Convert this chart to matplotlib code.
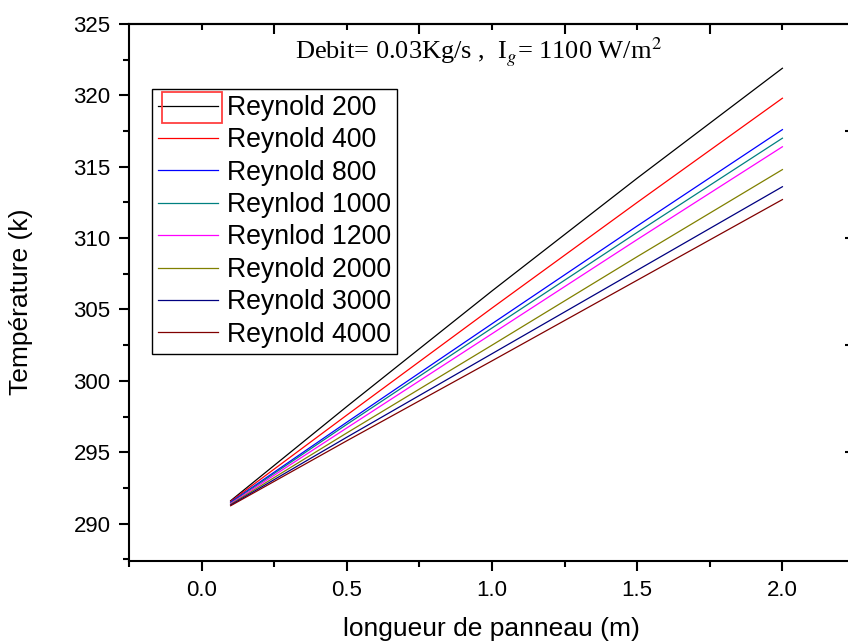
import matplotlib
matplotlib.use("Agg")
import matplotlib.pyplot as plt
from matplotlib.patches import Rectangle
from matplotlib.ticker import MultipleLocator, FixedLocator, NullFormatter, FormatStrFormatter

OUTPUT_FILE = "out.png"

plt.rcParams["font.family"] = ["Liberation Sans", "DejaVu Sans"]
plt.rcParams["mathtext.fontset"] = "stix"

# longueur de panneau (m)
longueur = [0.1, 0.5, 1.0, 1.5, 2.0]

# température de sortie (K) pour chaque Reynolds
labels = ["Reynold 200", "Reynold 400", "Reynold 800", "Reynlod 1000",
          "Reynlod 1200", "Reynold 2000", "Reynold 3000", "Reynold 4000"]
t_re200 = [291.60, 298.20, 306.30, 314.20, 321.9]
t_re400 = [291.55, 297.60, 305.10, 312.50, 319.8]
t_re800 = [291.50, 297.10, 304.00, 310.85, 317.6]
t_re1000 = [291.45, 296.95, 303.70, 310.40, 317.0]
t_re1200 = [291.40, 296.70, 303.30, 309.90, 316.4]
t_re2000 = [291.35, 296.35, 302.50, 308.70, 314.8]
t_re3000 = [291.30, 296.05, 301.90, 307.75, 313.6]
t_re4000 = [291.25, 295.80, 301.40, 307.05, 312.7]
series = [t_re200, t_re400, t_re800, t_re1000, t_re1200, t_re2000, t_re3000, t_re4000]
colors = ["#000000", "#FF0000", "#0000FF", "#008080",
          "#FF00FF", "#808000", "#000080", "#800000"]

fig = plt.figure(figsize=(8.48, 6.43), dpi=100)
ax = fig.add_axes([129 / 848, 1 - 560.7 / 643, 726 / 848, 536.7 / 643])

for y, c, lab in zip(series, colors, labels):
    ax.plot(longueur, y, color=c, linewidth=0.9, label=lab)

ax.set_xlim(-0.25, 2.25)
ax.set_ylim(287.4, 325)

# axes du bas et de gauche
ax.xaxis.set_major_locator(MultipleLocator(0.5))
ax.xaxis.set_minor_locator(MultipleLocator(0.25))
ax.yaxis.set_major_locator(MultipleLocator(5))
ax.yaxis.set_minor_locator(MultipleLocator(2.5))
ax.xaxis.set_major_formatter(FormatStrFormatter("%.1f"))
ax.yaxis.set_major_formatter(FormatStrFormatter("%d"))
ax.tick_params(which="major", direction="out", length=7.2, width=1.5,
               labelsize=16, top=False, right=False)
ax.tick_params(which="minor", direction="out", length=4, width=1.5,
               top=False, right=False)
ax.tick_params(axis="x", which="major", pad=6.5)
ax.tick_params(axis="y", which="major", pad=6)
for s in ax.spines.values():
    s.set_linewidth(1.5)

# axe du haut (graduations vers l'intérieur)
top = ax.secondary_xaxis("top")
top.xaxis.set_major_locator(FixedLocator([0.25, 0.75, 1.25, 1.75]))
top.xaxis.set_minor_locator(FixedLocator([0.0, 0.5, 1.0, 1.5, 2.0]))
top.xaxis.set_major_formatter(NullFormatter())
top.tick_params(which="major", direction="in", length=7.2, width=1.5)
top.tick_params(which="minor", direction="in", length=4.3, width=1.5)
top.spines["top"].set_linewidth(1.5)

# axe de droite
right = ax.secondary_yaxis("right")
right.yaxis.set_major_locator(FixedLocator([295, 302.5, 310, 317.5]))
right.yaxis.set_minor_locator(FixedLocator([]))
right.yaxis.set_major_formatter(NullFormatter())
right.tick_params(which="major", direction="in", length=7.2, width=1.5)
right.spines["right"].set_linewidth(1.5)

ax.set_xlabel("longueur de panneau (m)", fontsize=19)
ax.xaxis.set_label_coords(0.4986, -0.105)
ax.set_ylabel("Température (k)", fontsize=19)
ax.yaxis.set_label_coords(-0.132, 0.482)

leg = ax.legend(loc="upper left", bbox_to_anchor=(152 / 848, 1 - 89 / 643),
                bbox_transform=fig.transFigure, borderaxespad=0,
                fontsize=19.2, handlelength=2.25, handletextpad=0.34,
                labelspacing=0.24, borderpad=0.22, fancybox=False,
                framealpha=1, edgecolor="black")
leg.get_frame().set_linewidth(1.0)

# cadre rouge autour du premier symbole
fig.add_artist(Rectangle((162 / 848, 1 - 123 / 643), 60 / 848, 31 / 643,
                         transform=fig.transFigure, fill=False,
                         edgecolor="#FF4040", linewidth=1.3, zorder=5))

fig.text(295 / 848, 1 - 59 / 643,
         r"Debit= 0.03Kg/s ,  I$_{g}$= 1100 W/m$^{2}$",
         fontsize=19, family=["Liberation Serif"], ha="left", va="baseline")

fig.savefig(OUTPUT_FILE, dpi=100)
print("saved:", OUTPUT_FILE)
